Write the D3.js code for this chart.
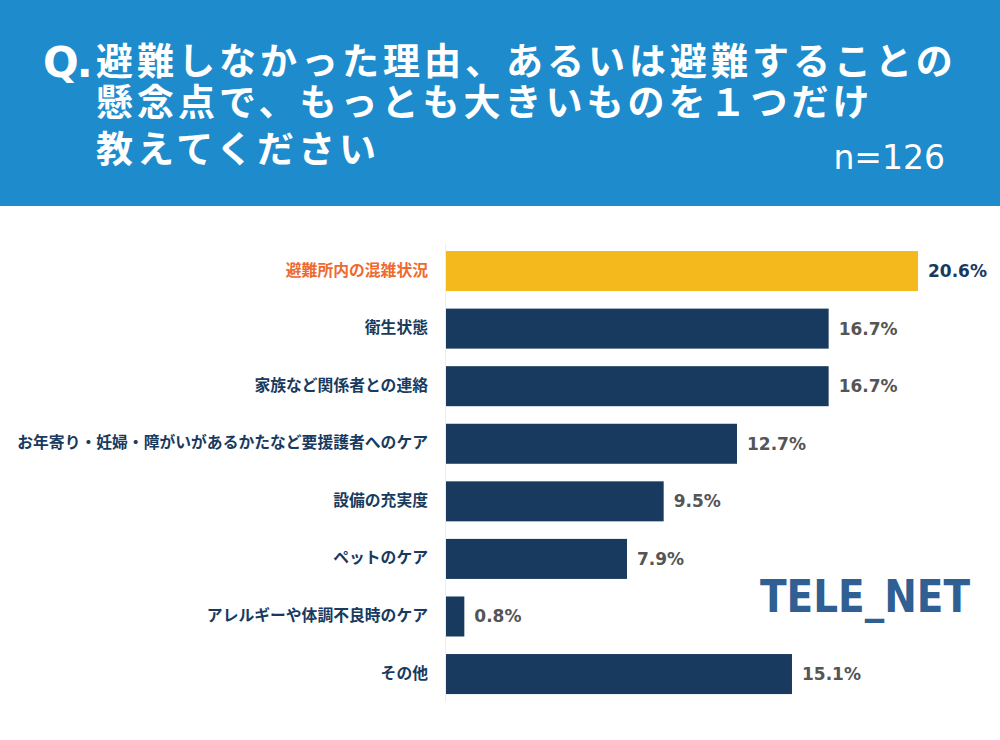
<!DOCTYPE html>
<html>
<head>
<meta charset="utf-8">
<script src="https://cdn.jsdelivr.net/npm/d3@7"></script>
<style>
  body { margin: 0; background: #fff; }
  svg { display: block; }
</style>
</head>
<body>
<svg width="1000" height="740"></svg>
<script>
// chart data
var categories = [
  "避難所内の混雑状況",
  "衛生状態",
  "家族など関係者との連絡",
  "お年寄り・妊婦・障がいがあるかたなど要援護者へのケア",
  "設備の充実度",
  "ペットのケア",
  "アレルギーや体調不良時のケア",
  "その他"
];
var values = [20.6, 16.7, 16.7, 12.7, 9.5, 7.9, 0.8, 15.1];
var titleLines = [
  "避難しなかった理由、あるいは避難することの",
  "懸念点で、もっとも大きいものを１つだけ",
  "教えてください"
];
var sampleSize = "n=126";

var width = 1000;
var height = 740;
var jp = "'Noto Sans CJK JP', 'Noto Sans', sans-serif";
var num = "'DejaVu Sans', Verdana, sans-serif";

var navy = "#173a5e";
var yellow = "#f3b91d";

var svg = d3.select("svg");

// header band
svg.append("rect")
  .attr("x", 0).attr("y", 0)
  .attr("width", width).attr("height", 206)
  .attr("fill", "#1e8bcc");

svg.append("text")
  .attr("x", 43).attr("y", 77)
  .attr("fill", "#fff")
  .style("font-family", num)
  .style("font-weight", "bold")
  .style("font-size", "42px")
  .style("letter-spacing", "-2px")
  .text("Q.");

// title as one block, one tspan per line
var titleY = [75, 116, 163];

svg.append("text")
  .attr("fill", "#fff")
  .style("font-family", jp)
  .style("font-weight", "bold")
  .style("font-size", "37px")
  .style("letter-spacing", "4px")
  .selectAll("tspan")
  .data(titleLines)
  .enter()
  .append("tspan")
  .attr("x", 96)
  .attr("y", function (d, i) { return titleY[i]; })
  .text(function (d) { return d; });

svg.append("text")
  .attr("x", 945).attr("y", 169)
  .attr("fill", "#fff")
  .style("font-family", num)
  .style("font-size", "33px")
  .style("text-anchor", "end")
  .text(sampleSize);

// scales
var x = d3.scaleLinear().domain([0, 20.6]).range([446, 918]);
var y = d3.scaleBand()
  .domain(categories)
  .range([242.4, 702.7])
  .paddingInner(0.305)
  .paddingOuter(0.15);

// faint baseline
svg.append("line")
  .attr("x1", 445.5).attr("x2", 445.5)
  .attr("y1", 243).attr("y2", 702)
  .attr("stroke", "#eeeeee")
  .attr("stroke-width", 1);

svg.selectAll(".bar")
  .data(values)
  .enter()
  .append("rect")
  .attr("class", "bar")
  .attr("x", x(0))
  .attr("y", function (d, i) { return y(categories[i]); })
  .attr("width", function (d) { return x(d) - x(0); })
  .attr("height", y.bandwidth())
  .attr("fill", function (d, i) { return i == 0 ? yellow : navy; });

// category labels
svg.selectAll(".cat")
  .data(categories)
  .enter()
  .append("text")
  .attr("class", "cat")
  .attr("x", 428)
  .attr("y", function (d) { return y(d) + y.bandwidth() / 2 - 2; })
  .attr("dominant-baseline", "central")
  .attr("fill", function (d, i) { return i == 0 ? "#ee6a2e" : navy; })
  .style("font-family", jp)
  .style("font-weight", "bold")
  .style("font-size", "15.8px")
  .style("text-anchor", "end")
  .text(function (d) { return d; });

// value labels
svg.selectAll(".val")
  .data(values)
  .enter()
  .append("text")
  .attr("class", "val")
  .attr("x", function (d) { return x(d) + 10; })
  .attr("y", function (d, i) { return y(categories[i]) + y.bandwidth() / 2 + 6; })
  .attr("fill", function (d, i) { return i == 0 ? navy : "#555555"; })
  .style("font-family", num)
  .style("font-weight", "bold")
  .style("font-size", "17px")
  .text(function (d) { return d.toFixed(1) + "%"; });

// logo
svg.append("text")
  .attr("x", 760).attr("y", 612)
  .attr("fill", "#2f5f93")
  .attr("textLength", 210)
  .attr("lengthAdjust", "spacingAndGlyphs")
  .style("font-family", num)
  .style("font-weight", "bold")
  .style("font-size", "44px")
  .text("TELE_NET");
</script>
</body>
</html>
